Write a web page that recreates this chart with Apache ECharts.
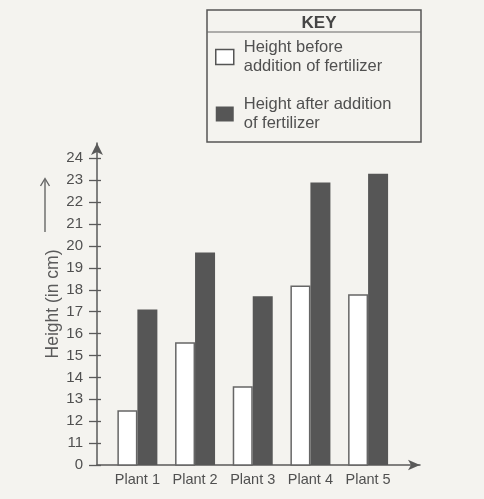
<!DOCTYPE html>
<html>
<head>
<meta charset="utf-8">
<script src="https://cdn.jsdelivr.net/npm/echarts@6/dist/echarts.min.js"></script>
<style>
html,body{margin:0;padding:0;background:#f4f3ef;}
#c{width:484px;height:499px;}
</style>
</head>
<body>
<div id="c"></div>
<script>
// Data
var categories = ['Plant 1', 'Plant 2', 'Plant 3', 'Plant 4', 'Plant 5'];
var heightBefore = [12.5, 15.6, 13.6, 18.2, 17.8];
var heightAfter = [17.1, 19.7, 17.7, 22.9, 23.3];
var seriesNames = ['Height before addition of fertilizer', 'Height after addition of fertilizer'];
var legendLabels = ['Height before\naddition of fertilizer', 'Height after addition\nof fertilizer'];
// y tick values; the axis jumps from 0 (drawn at the 10 slot) straight to 11
var yTickValues = [10, 11, 12, 13, 14, 15, 16, 17, 18, 19, 20, 21, 22, 23, 24];
var yTickLabels = ['0', '11', '12', '13', '14', '15', '16', '17', '18', '19', '20', '21', '22', '23', '24'];

var chart = echarts.init(document.getElementById('c'), null, {renderer: 'canvas'});
var font = 'Liberation Sans, Arial, sans-serif';
var ink = '#505050';
var lineCol = '#5a5a5a';

var option = {
  backgroundColor: '#f4f3ef',
  animation: false,
  textStyle: {fontFamily: font},
  title: {
    text: 'KEY',
    left: 314, top: 10, textAlign: 'center',
    textStyle: {fontSize: 17, fontWeight: 'bold', color: '#454545', fontFamily: font}
  },
  legend: {
    orient: 'vertical',
    left: 215, top: 38,
    padding: 0,
    itemWidth: 18, itemHeight: 15,
    itemGap: 19,
    data: [
      {name: seriesNames[0], icon: 'rect', itemStyle: {color: '#ffffff', borderColor: '#555', borderWidth: 1.5}},
      {name: seriesNames[1], icon: 'rect', itemStyle: {color: '#565656', borderWidth: 0}}
    ],
    formatter: function (n) { return legendLabels[seriesNames.indexOf(n)]; },
    textStyle: {fontSize: 16.5, lineHeight: 19, color: ink, padding: [0, 0, 0, 5], fontFamily: font}
  },
  grid: {left: 97, right: 64, top: 143, bottom: 34},
  xAxis: {
    type: 'value',
    min: -0.7, max: 4.9,
    axisLine: {show: true, onZero: false, symbol: ['none', 'arrow'], symbolSize: [8, 12], lineStyle: {color: lineCol, width: 1.5}},
    axisTick: {show: false},
    splitLine: {show: false},
    axisLabel: {
      customValues: [0, 1, 2, 3, 4],
      formatter: function (v) { return categories[Math.round(v)] || ''; },
      fontSize: 14.5, color: ink, margin: 7, fontFamily: font
    }
  },
  yAxis: [{
    type: 'value',
    min: 10, max: 24.7,
    name: 'Height (in cm)',
    nameLocation: 'middle',
    nameGap: 35,
    nameMoveOverlap: false,
    nameTextStyle: {fontSize: 17.5, color: '#5a5a5a', fontFamily: font},
    axisLine: {show: true, onZero: false, symbol: ['none', 'arrow'], symbolSize: [9, 12], lineStyle: {color: lineCol, width: 1.5}},
    axisTick: {show: true, length: 8, customValues: yTickValues, lineStyle: {color: lineCol, width: 1.3}},
    splitLine: {show: false},
    axisLabel: {
      customValues: yTickValues,
      fontSize: 15, color: ink, margin: 14, fontFamily: font,
      formatter: function (v) { return yTickLabels[yTickValues.indexOf(Math.round(v))]; }
    }
  }, {
    type: 'value',
    position: 'left',
    min: 10, max: 24.7,
    axisLine: {show: false, onZero: false},
    axisTick: {show: true, inside: true, length: 4, customValues: yTickValues, lineStyle: {color: lineCol, width: 1.3}},
    axisLabel: {show: false},
    splitLine: {show: false}
  }],
  series: [{
    name: seriesNames[0],
    type: 'bar',
    barWidth: 20,
    barGap: '0%',
    data: heightBefore.map(function (v, i) { return [i, v]; }),
    itemStyle: {color: '#ffffff', borderColor: '#666', borderWidth: 1.5}
  }, {
    name: seriesNames[1],
    type: 'bar',
    barWidth: 20,
    barGap: '0%',
    data: heightAfter.map(function (v, i) { return [i, v]; }),
    itemStyle: {color: '#565656'}
  }],
  graphic: [
    {type: 'rect', shape: {x: 207, y: 10, width: 214, height: 132}, style: {fill: 'none', stroke: '#555', lineWidth: 1.5}, z: 0},
    {type: 'line', shape: {x1: 207, y1: 32, x2: 421, y2: 32}, style: {stroke: '#666', lineWidth: 1.2}},
    {type: 'line', shape: {x1: 45, y1: 232, x2: 45, y2: 180}, style: {stroke: '#666', lineWidth: 1.4}},
    {type: 'polyline', shape: {points: [[40.5, 186], [45, 178.5], [49.5, 186]]}, style: {stroke: '#666', fill: 'none', lineWidth: 1.4}}
  ]
};
chart.setOption(option);
</script>
</body>
</html>
